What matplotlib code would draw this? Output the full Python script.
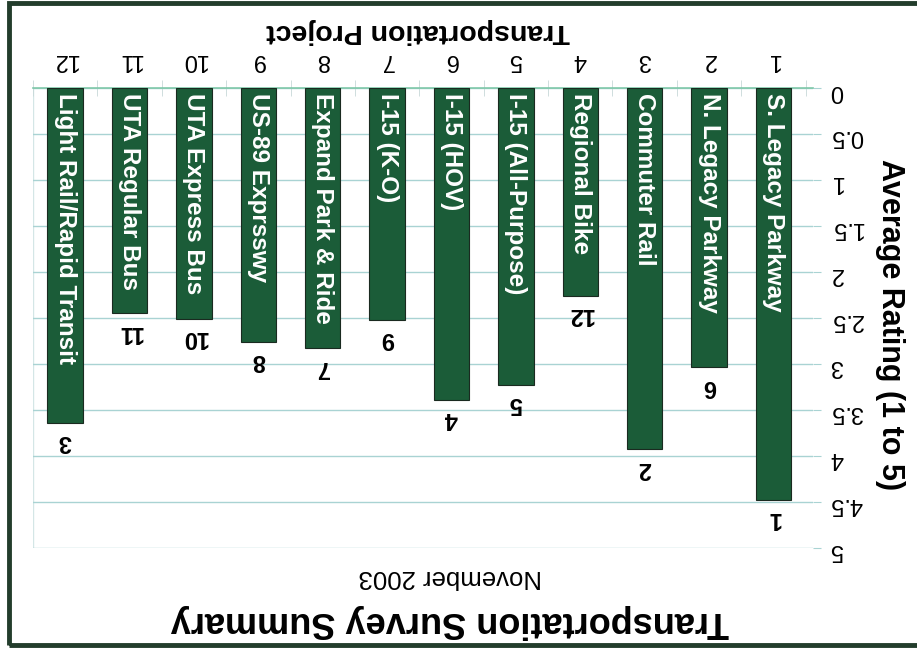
import numpy as np
import matplotlib.pyplot as plt
from matplotlib.patches import Rectangle

plt.rcParams['font.family'] = ['Liberation Sans', 'DejaVu Sans']

# survey data (chart is printed upside down)
projects = [1, 2, 3, 4, 5, 6, 7, 8, 9, 10, 11, 12]
names = ['S. Legacy Parkway', 'N. Legacy Parkway', 'Commuter Rail', 'Regional Bike',
         'I-15 (All-Purpose)', 'I-15 (HOV)', 'I-15 (K-O)', 'Expand Park & Ride',
         'US-89 Exprsswy', 'UTA Express Bus', 'UTA Regular Bus', 'Light Rail/Rapid Transit']
ratings = [4.48, 3.04, 3.93, 2.26, 3.23, 3.39, 2.52, 2.83, 2.76, 2.51, 2.45, 3.64]
ranks = [1, 6, 2, 12, 5, 4, 9, 7, 8, 10, 11, 3]
yticks = [0, 0.5, 1, 1.5, 2, 2.5, 3, 3.5, 4, 4.5, 5]
ytick_labels = ['0', '0.5', '1', '1.5', '2', '2.5', '3', '3.5', '4', '4.5', '5']

green = '#1b5c38'
grid = '#a9d3d3'

fig = plt.figure(figsize=(9.17, 6.52), dpi=100)
ax = fig.add_axes([0.036, 0.160, 0.851, 0.705])

ax.bar(projects, ratings, width=0.55, color=green, edgecolor='#1a2a20', linewidth=0.8, zorder=3)

ax.set_xlim(12.5, 0.38)
ax.set_ylim(5, 0)

for s in ['left', 'right', 'bottom']:
    ax.spines[s].set_visible(False)
ax.spines['top'].set_color('#7fc8a9')
ax.spines['top'].set_linewidth(1.2)

ax.xaxis.tick_top()
ax.set_xticks(projects)
ax.set_xticklabels([str(p) for p in projects], rotation=180, fontsize=17)
ax.set_xticks(np.arange(0.5, 12.6, 1), minor=True)
ax.tick_params(axis='x', which='major', length=0, pad=12)
ax.tick_params(axis='x', which='minor', direction='inout', length=12, color='#c8d8d8')

ax.yaxis.tick_right()
ax.set_yticks(yticks)
ax.set_yticklabels(ytick_labels, fontsize=17)
ax.tick_params(axis='y', labelrotation=180, length=6, color=grid, pad=6)
ax.grid(axis='y', color=grid, linewidth=1, zorder=0)
ax.axvline(12.5, color='#d4e6e6', linewidth=1, zorder=0)

for p, n, r, k in zip(projects, names, ratings, ranks):
    ax.text(p, 0.05, n, rotation=270, ha='center', va='top', color='white',
            fontsize=17.5, fontweight='bold', zorder=4)
    ax.text(p, r + 0.08, str(k), rotation=180, ha='center', va='top',
            fontsize=17, fontweight='bold', zorder=4)

# axis titles placed by hand (everything is turned 180 degrees)
fig.text(418 / 917, 1 - 31 / 652, 'Transportation Project', rotation=180, ha='center', va='center',
         fontsize=20.5, fontweight='bold')
fig.text(890 / 917, 1 - 325 / 652, 'Average Rating (1 to 5)', rotation=270, ha='center', va='center',
         fontsize=22, fontweight='bold')

fig.text(0.491, 1 - 621 / 652, 'Transportation Survey Summary', rotation=180, ha='center', va='center',
         fontsize=26, fontweight='bold')
fig.text(0.491, 1 - 577 / 652, 'November 2003', rotation=180, ha='center', va='center', fontsize=18.5)

fig.patches.append(Rectangle((9 / 917, 7 / 652), 1.05, 1 - 10 / 652, transform=fig.transFigure,
                             fill=False, edgecolor='#233d2c', linewidth=3.5))

fig.savefig('out.png', dpi=100)
